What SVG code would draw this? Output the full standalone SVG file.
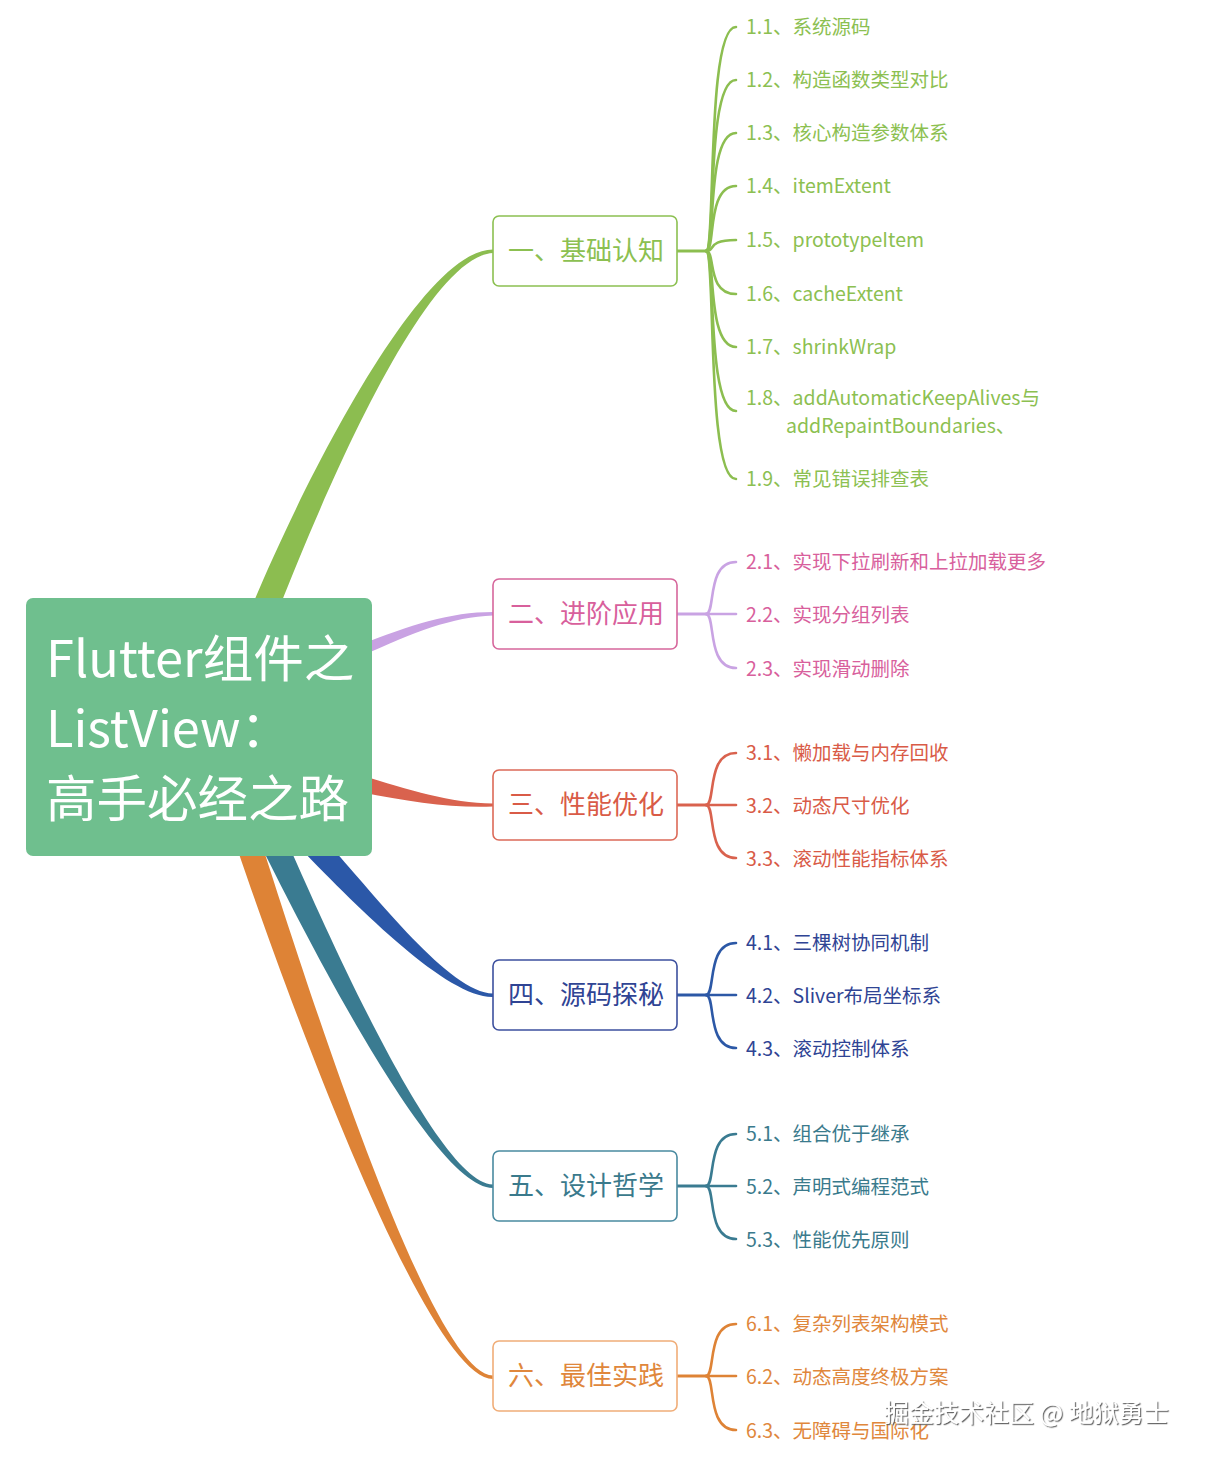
<svg xmlns="http://www.w3.org/2000/svg" width="1205" height="1463" viewBox="0 0 1205 1463">
<defs>
<style>
text{font-family:"Noto Sans CJK SC","Noto Sans",sans-serif;}
.root{font-size:50.5px;fill:#ffffff;}
.main{font-size:26px;}
.sub{font-size:19.5px;}
.box{fill:#ffffff;stroke-width:1.6;}
.sb{fill:none;stroke-width:2.6;stroke-linecap:round;}
.stub{fill:none;stroke-width:3;}
.g{fill:#8cc051;} .gs{stroke:#8cbe50;}
.p{fill:#d8609c;} .ps{stroke:#c9a3e3;}
.r{fill:#d95b47;} .rs{stroke:#d9624e;}
.b{fill:#2f4494;} .bs{stroke:#2c58a6;}
.t{fill:#3a7a8c;} .ts{stroke:#3a7b91;}
.o{fill:#e0873c;} .os{stroke:#de8336;}
.wm{font-size:25px;fill:#ffffff;}
</style>
<filter id="shadow" x="-5%" y="-30%" width="110%" height="160%">
<feDropShadow dx="1.2" dy="1.2" stdDeviation="0.6" flood-color="#555555" flood-opacity="0.9"/>
</filter>
</defs>
<rect width="1205" height="1463" fill="#ffffff"/>

<g id="connectors">
<path fill="#8cbd50" d="M252,606 C309,470 423,249 493,249.5 L493,253 C428,256 332,474 280,606 Z"/>
<path fill="#c9a2e3" d="M360,645 C410,625 450,612 493,612 L493,615.5 C452,617 414,632 362,656 Z"/>
<path fill="#d9624e" d="M360,775 C410,790 450,803 493,803.5 L493,806.5 C450,808 410,802 360,792 Z"/>
<path fill="#2b58a8" d="M332,848 C375,895 450,993 493,993.5 L493,997 C448,998 362,912 300,848 Z"/>
<path fill="#3a7b91" d="M290,848 C335,950 440,1184 493,1184.5 L493,1188 C436,1188 318,960 262,848 Z"/>
<path fill="#de8336" d="M263,848 C312,1000 432,1375 493,1375.5 L493,1379 C428,1379 292,1010 237,848 Z"/>

<g class="gs">
<line class="stub" x1="677" y1="251" x2="707" y2="251"/>
<path class="sb" d="M706,251 C716,251 706,27 736,27"/>
<path class="sb" d="M706,251 C716,251 706,80 736,80"/>
<path class="sb" d="M706,251 C716,251 706,133 736,133"/>
<path class="sb" d="M706,251 C716,251 706,186 736,186"/>
<path class="sb" d="M706,251 C716,251 706,240 736,240"/>
<path class="sb" d="M706,251 C716,251 706,294 736,294"/>
<path class="sb" d="M706,251 C716,251 706,347 736,347"/>
<path class="sb" d="M706,251 C716,251 706,411 736,411"/>
<path class="sb" d="M706,251 C716,251 706,479 736,479"/>
</g>
<g class="ps">
<line class="stub" x1="677" y1="614" x2="707" y2="614"/>
<path class="sb" d="M706,614 C716,614 706,562 736,562"/>
<path class="sb" d="M706,614 L736,614"/>
<path class="sb" d="M706,614 C716,614 706,668 736,668"/>
</g>
<g class="rs">
<line class="stub" x1="677" y1="805" x2="707" y2="805"/>
<path class="sb" d="M706,805 C716,805 706,753 736,753"/>
<path class="sb" d="M706,805 L736,805"/>
<path class="sb" d="M706,805 C716,805 706,858 736,858"/>
</g>
<g class="bs">
<line class="stub" x1="677" y1="995" x2="707" y2="995"/>
<path class="sb" d="M706,995 C716,995 706,943 736,943"/>
<path class="sb" d="M706,995 L736,995"/>
<path class="sb" d="M706,995 C716,995 706,1048 736,1048"/>
</g>
<g class="ts">
<line class="stub" x1="677" y1="1186" x2="707" y2="1186"/>
<path class="sb" d="M706,1186 C716,1186 706,1134 736,1134"/>
<path class="sb" d="M706,1186 L736,1186"/>
<path class="sb" d="M706,1186 C716,1186 706,1239 736,1239"/>
</g>
<g class="os">
<line class="stub" x1="677" y1="1376" x2="707" y2="1376"/>
<path class="sb" d="M706,1376 C716,1376 706,1324 736,1324"/>
<path class="sb" d="M706,1376 L736,1376"/>
<path class="sb" d="M706,1376 C716,1376 706,1430 736,1430"/>
</g>
</g>

<g id="root">
<rect x="26" y="598" width="346" height="258" rx="7" fill="#6fbf8e"/>
<text class="root" x="46" y="677">Flutter组件之</text>
<text class="root" x="46" y="747">ListView：</text>
<text class="root" x="46" y="817">高手必经之路</text>
</g>

<g id="n1">
<rect class="box" x="493" y="216" width="184" height="70" rx="6" stroke="#8cc051"/>
<text class="main g" x="508" y="260">一、基础认知</text>
</g>
<g id="n1-children">
<text class="sub g" x="746" y="34">1.1、系统源码</text>
<text class="sub g" x="746" y="87">1.2、构造函数类型对比</text>
<text class="sub g" x="746" y="140">1.3、核心构造参数体系</text>
<text class="sub g" x="746" y="193">1.4、itemExtent</text>
<text class="sub g" x="746" y="247">1.5、prototypeItem</text>
<text class="sub g" x="746" y="301">1.6、cacheExtent</text>
<text class="sub g" x="746" y="354">1.7、shrinkWrap</text>
<text class="sub g" x="746" y="405">1.8、addAutomaticKeepAlives与</text>
<text class="sub g" x="786" y="433">addRepaintBoundaries、</text>
<text class="sub g" x="746" y="486">1.9、常见错误排查表</text>
</g>

<g id="n2">
<rect class="box" x="493" y="579" width="184" height="70" rx="6" stroke="#d6679c"/>
<text class="main p" x="508" y="623">二、进阶应用</text>
</g>
<g id="n2-children">
<text class="sub p" x="746" y="569">2.1、实现下拉刷新和上拉加载更多</text>
<text class="sub p" x="746" y="622">2.2、实现分组列表</text>
<text class="sub p" x="746" y="676">2.3、实现滑动删除</text>
</g>

<g id="n3">
<rect class="box" x="493" y="770" width="184" height="70" rx="6" stroke="#dc6a58"/>
<text class="main r" x="508" y="814">三、性能优化</text>
</g>
<g id="n3-children">
<text class="sub r" x="746" y="760">3.1、懒加载与内存回收</text>
<text class="sub r" x="746" y="813">3.2、动态尺寸优化</text>
<text class="sub r" x="746" y="866">3.3、滚动性能指标体系</text>
</g>

<g id="n4">
<rect class="box" x="493" y="960" width="184" height="70" rx="6" stroke="#3d509e"/>
<text class="main b" x="508" y="1004">四、源码探秘</text>
</g>
<g id="n4-children">
<text class="sub b" x="746" y="950">4.1、三棵树协同机制</text>
<text class="sub b" x="746" y="1003">4.2、Sliver布局坐标系</text>
<text class="sub b" x="746" y="1056">4.3、滚动控制体系</text>
</g>

<g id="n5">
<rect class="box" x="493" y="1151" width="184" height="70" rx="6" stroke="#4a8aa0"/>
<text class="main t" x="508" y="1195">五、设计哲学</text>
</g>
<g id="n5-children">
<text class="sub t" x="746" y="1141">5.1、组合优于继承</text>
<text class="sub t" x="746" y="1194">5.2、声明式编程范式</text>
<text class="sub t" x="746" y="1247">5.3、性能优先原则</text>
</g>

<g id="n6">
<rect class="box" x="493" y="1341" width="184" height="70" rx="6" stroke="#f0ad78"/>
<text class="main o" x="508" y="1385">六、最佳实践</text>
</g>
<g id="n6-children">
<text class="sub o" x="746" y="1331">6.1、复杂列表架构模式</text>
<text class="sub o" x="746" y="1384">6.2、动态高度终极方案</text>
<text class="sub o" x="746" y="1438">6.3、无障碍与国际化</text>
</g>

<text class="wm" x="884" y="1422" filter="url(#shadow)">掘金技术社区 @ 地狱勇士</text>
</svg>
